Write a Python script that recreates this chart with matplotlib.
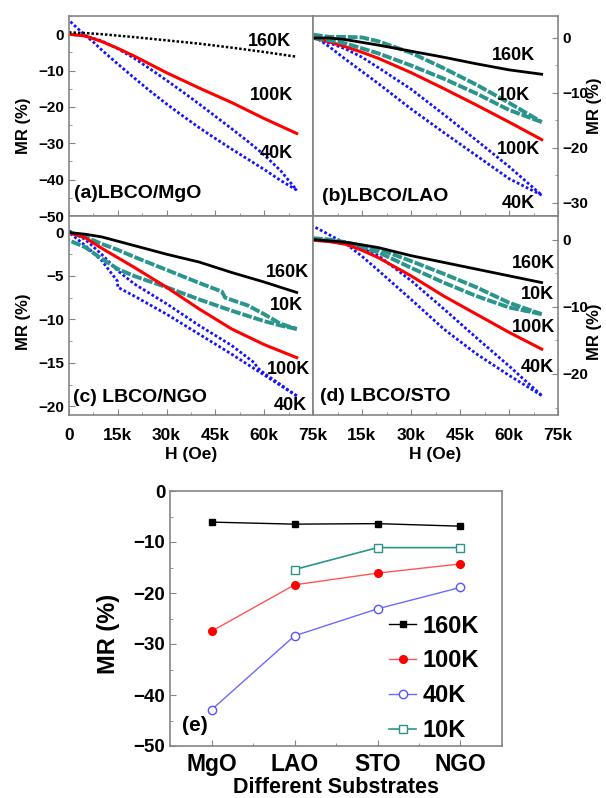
import matplotlib
matplotlib.use('Agg')
import matplotlib.pyplot as plt
import numpy as np
from matplotlib.ticker import MultipleLocator, FuncFormatter

plt.rcParams['font.family'] = ['Liberation Sans', 'DejaVu Sans']
plt.rcParams['font.weight'] = 'bold'

# field values in kOe
H = [0, 5, 10, 15, 20, 30, 40, 50, 60, 70]
H_back = [70, 60, 50, 40, 30, 20, 15, 10, 5, 0]

# (a) LBCO/MgO
a_160 = [0.5, 0.3, 0.0, -0.4, -0.8, -1.7, -2.6, -3.7, -4.9, -6.2]
a_100 = [0, -0.5, -2.0, -3.9, -6.0, -10.6, -14.8, -18.8, -23.2, -27.3]
a_40_H = [0, 5, 10, 15, 20, 25, 30, 35, 40, 45, 50, 55, 60, 65, 70]
a_40 = [0, -0.5, -1.8, -4.0, -6.6, -9.6, -12.7, -15.9, -19.2, -22.6, -26.0, -29.5, -33.2, -37.5, -42.9]
a_40b_H = [70, 65, 60, 55, 50, 45, 40, 35, 30, 25, 20, 15, 10, 7.5, 5, 2.5, 0]
a_40b = [-42.9, -40.2, -37.2, -34.4, -31.6, -28.7, -25.7, -22.5, -19.2, -15.7, -12.0, -8.2, -4.3, -2.2, -0.3, 1.7, 3.8]

# (b) LBCO/LAO
b_160 = [0, 0, -0.3, -0.8, -1.3, -2.4, -3.5, -4.7, -5.8, -6.6]
b_100 = [0, -0.7, -1.6, -2.6, -3.7, -6.3, -9.2, -12.2, -15.3, -18.5]
b_10 = [0.6, 0.2, 0.2, 0.1, -0.6, -2.7, -5.5, -8.5, -11.8, -15.3]
b_10b = [-15.3, -13.1, -10.1, -7.4, -5.0, -2.8, -1.9, -1.0, -0.4, 0]
b_40 = [0, -0.9, -2.0, -3.5, -5.4, -9.3, -13.9, -18.6, -23.4, -28.6]
b_40b = [-28.6, -25.6, -21.4, -17.2, -12.9, -8.3, -6.1, -3.9, -1.6, 0.5]

# (c) LBCO/NGO
c_160 = [0, -0.2, -0.5, -1.0, -1.5, -2.5, -3.4, -4.6, -5.7, -6.9]
c_100 = [0, -0.6, -1.8, -2.9, -4.0, -6.3, -8.8, -11.1, -12.9, -14.4]
c_10_H = [0, 5, 10, 15, 20, 30, 40, 47, 48, 55, 60, 65, 70]
c_10 = [0, -0.5, -1.3, -2.0, -2.8, -4.3, -5.8, -6.8, -7.5, -8.4, -9.4, -10.5, -11.1]
c_10b_H = [70, 65, 60, 50, 40, 30, 20, 15, 10, 5, 0]
c_10b = [-11.1, -10.7, -10.2, -9.0, -7.7, -6.3, -5.0, -4.2, -3.0, -1.7, -0.9]
c_40_H = [0, 5, 10, 15, 20, 30, 40, 50, 57, 58, 60, 70]
c_40 = [0.2, -0.8, -2.5, -4.4, -5.9, -8.2, -10.7, -13.0, -15.0, -15.6, -16.2, -18.8]
c_40b_H = [70, 60, 50, 40, 30, 20, 15, 14.9, 10, 5, 0]
c_40b = [-18.8, -16.4, -14.0, -11.7, -9.4, -7.3, -6.3, -5.6, -3.2, -1.5, 0]

# (d) LBCO/STO
d_160 = [0, -0.2, -0.4, -0.8, -1.2, -2.4, -3.4, -4.4, -5.4, -6.4]
d_100 = [-0.1, -0.3, -0.7, -1.6, -2.7, -5.4, -8.4, -11.1, -13.8, -16.3]
d_10 = [0.2, 0.0, -0.4, -0.9, -1.4, -3.2, -5.1, -7.1, -9.4, -11.1]
d_10b = [-11.1, -10.1, -8.4, -6.4, -4.2, -1.9, -1.2, -0.6, -0.2, 0]
d_40 = [0, -0.1, -0.4, -1.3, -2.4, -6.1, -10.3, -14.6, -18.8, -23.2]
d_40b = [-23.2, -20.2, -17.0, -13.3, -8.9, -4.6, -2.5, -0.6, 0.7, 2.0]

# (e) MR at 70 kOe vs substrate
substrates = ['MgO', 'LAO', 'STO', 'NGO']
e_160 = [-6.1, -6.5, -6.4, -6.9]
e_100 = [-27.5, -18.4, -16.1, -14.3]
e_40 = [-42.9, -28.4, -23.1, -18.9]
e_10 = [np.nan, -15.4, -11.1, -11.1]

BLUE = '#1414ff'
TEAL = '#2a958c'
GREY = '#858585'

fig = plt.figure(figsize=(6.06, 7.98), dpi=100)
W, Hh = 606, 798


def box(x0, y0, x1, y1):
    return [x0 / W, 1 - y1 / Hh, (x1 - x0) / W, (y1 - y0) / Hh]


ax_a = fig.add_axes(box(69, 16, 313, 216))
ax_b = fig.add_axes(box(313, 16, 558, 216))
ax_c = fig.add_axes(box(69, 216, 313, 415))
ax_d = fig.add_axes(box(313, 216, 558, 415))
ax_e = fig.add_axes(box(170, 491, 502, 746))


def style(ax, right=False):
    for s in ax.spines.values():
        s.set_color(GREY)
        s.set_linewidth(1.2)
    ax.tick_params(which='both', direction='in', top=False, color=GREY,
                   labelsize=11)
    ax.tick_params(which='major', length=4)
    ax.tick_params(which='minor', length=2.5)
    if right:
        ax.yaxis.tick_right()
        ax.yaxis.set_label_position('right')
        ax.tick_params(which='both', left=False)
    else:
        ax.tick_params(which='both', right=False)
    ax.set_xlim(0, 75)
    ax.xaxis.set_major_locator(MultipleLocator(15))
    ax.xaxis.set_minor_locator(MultipleLocator(7.5))


def blue(ax, h, v):
    ax.plot(h, v, color=BLUE, lw=2.0, ls=(0, (1, 0.8)))


def teal(ax, h, v):
    ax.plot(h, v, color=TEAL, lw=2.8, ls=(0, (2.5, 0.5)))


def red(ax, h, v):
    ax.plot(h, v, color='#ff0000', lw=2.2)


def black(ax, h, v, dotted=False):
    if dotted:
        ax.plot(h, v, color='k', lw=1.8, ls=(0, (1, 0.8)))
    else:
        ax.plot(h, v, color='k', lw=2.0)


# (a)
style(ax_a)
blue(ax_a, a_40_H, a_40)
blue(ax_a, a_40b_H, a_40b)
red(ax_a, H, a_100)
black(ax_a, H, a_160, dotted=True)
ax_a.set_ylim(-50, 5)
ax_a.yaxis.set_major_locator(MultipleLocator(10))
ax_a.yaxis.set_minor_locator(MultipleLocator(5))

# (b)
style(ax_b, right=True)
blue(ax_b, H, b_40)
blue(ax_b, H_back, b_40b)
red(ax_b, H, b_100)
teal(ax_b, H, b_10)
teal(ax_b, H_back, b_10b)
black(ax_b, H, b_160)
ax_b.set_ylim(-32.4, 4)
ax_b.yaxis.set_major_locator(MultipleLocator(10))
ax_b.yaxis.set_minor_locator(MultipleLocator(5))

# (c)
style(ax_c)
blue(ax_c, c_40_H, c_40)
blue(ax_c, c_40b_H, c_40b)
teal(ax_c, c_10_H, c_10)
teal(ax_c, c_10b_H, c_10b)
red(ax_c, H, c_100)
black(ax_c, H, c_160)
ax_c.set_ylim(-21, 1.9)
ax_c.yaxis.set_major_locator(MultipleLocator(5))
ax_c.yaxis.set_minor_locator(MultipleLocator(2.5))

# (d)
style(ax_d, right=True)
blue(ax_d, H, d_40)
blue(ax_d, H_back, d_40b)
teal(ax_d, H, d_10)
teal(ax_d, H_back, d_10b)
red(ax_d, H, d_100)
black(ax_d, H, d_160)
ax_d.set_ylim(-26.1, 3.5)
ax_d.yaxis.set_major_locator(MultipleLocator(10))
ax_d.yaxis.set_minor_locator(MultipleLocator(5))

for ax in (ax_a, ax_b):
    ax.tick_params(axis='x', labelbottom=False)

ax_c.xaxis.set_major_formatter(
    FuncFormatter(lambda v, p: '0' if v == 0 else f'{v:g}k'))
ax_d.xaxis.set_major_formatter(
    FuncFormatter(lambda v, p: '' if v == 0 else f'{v:g}k'))
for ax in (ax_c, ax_d):
    ax.tick_params(axis='x', labelsize=12.5, pad=9)
    ax.set_xlabel('H (Oe)', fontsize=12.5, fontweight='bold', labelpad=3)

for ax in (ax_a, ax_b, ax_c, ax_d):
    ax.set_ylabel('MR (%)', fontsize=12, fontweight='bold')
ax_a.yaxis.set_label_coords(-0.155, 0.45)
ax_c.yaxis.set_label_coords(-0.155, 0.47)
ax_b.yaxis.set_label_coords(1.12, 0.55)
ax_d.yaxis.set_label_coords(1.12, 0.42)

tk = dict(fontsize=13, fontweight='bold', ha='center', va='center')
ax_a.text(0.82, 0.875, '160K', transform=ax_a.transAxes, **tk)
ax_a.text(0.828, 0.60, '100K', transform=ax_a.transAxes, **tk)
ax_a.text(0.848, 0.31, '40K', transform=ax_a.transAxes, **tk)
ax_b.text(0.82, 0.80, '160K', transform=ax_b.transAxes, **tk)
ax_b.text(0.82, 0.60, '10K', transform=ax_b.transAxes, **tk)
ax_b.text(0.837, 0.335, '100K', transform=ax_b.transAxes, **tk)
ax_b.text(0.837, 0.06, '40K', transform=ax_b.transAxes, **tk)
ax_c.text(0.895, 0.717, '160K', transform=ax_c.transAxes, **tk)
ax_c.text(0.89, 0.55, '10K', transform=ax_c.transAxes, **tk)
ax_c.text(0.90, 0.23, '100K', transform=ax_c.transAxes, **tk)
ax_c.text(0.905, 0.047, '40K', transform=ax_c.transAxes, **tk)
ax_d.text(0.90, 0.76, '160K', transform=ax_d.transAxes, **tk)
ax_d.text(0.917, 0.608, '10K', transform=ax_d.transAxes, **tk)
ax_d.text(0.90, 0.44, '100K', transform=ax_d.transAxes, **tk)
ax_d.text(0.917, 0.24, '40K', transform=ax_d.transAxes, **tk)

pk = dict(fontsize=14, fontweight='bold', ha='left', va='center')
ax_a.text(0.02, 0.11, '(a)LBCO/MgO', transform=ax_a.transAxes, **pk)
ax_b.text(0.035, 0.097, '(b)LBCO/LAO', transform=ax_b.transAxes, **pk)
ax_c.text(0.015, 0.09, '(c) LBCO/NGO', transform=ax_c.transAxes, **pk)
ax_d.text(0.029, 0.092, '(d) LBCO/STO', transform=ax_d.transAxes, **pk)

# (e)
xs = np.arange(len(substrates))
for s in ax_e.spines.values():
    s.set_color(GREY)
    s.set_linewidth(1.2)
ax_e.plot(xs, e_160, color='k', lw=1, marker='s', ms=5, label='160K')
ax_e.plot(xs, e_100, color='#ff5555', lw=1, marker='o', ms=5.5,
          mfc='#ff0000', mec='#ff0000', label='100K')
ax_e.plot(xs, e_40, color='#6a6aff', lw=1, marker='o', ms=6,
          mfc='white', mec='#5555ff', label='40K')
ax_e.plot(xs, e_10, color=TEAL, lw=1.2, marker='s', ms=5.5,
          mfc='white', mec=TEAL, label='10K')
ax_e.set_xlim(-0.5, 3.5)
ax_e.set_ylim(-50, 0)
ax_e.set_xticks(xs)
ax_e.set_xticklabels(substrates)
ax_e.xaxis.set_minor_locator(MultipleLocator(0.5))
ax_e.yaxis.set_major_locator(MultipleLocator(10))
ax_e.yaxis.set_minor_locator(MultipleLocator(5))
ax_e.tick_params(which='both', direction='in', top=False, right=False,
                 color=GREY)
ax_e.tick_params(which='major', length=4)
ax_e.tick_params(which='minor', length=2.5)
ax_e.tick_params(axis='y', labelsize=13.5)
ax_e.tick_params(axis='x', labelsize=16.5, pad=5)
ax_e.set_ylabel('MR (%)', fontsize=17, fontweight='bold')
ax_e.yaxis.set_label_coords(-0.15, 0.44)
ax_e.set_xlabel('Different Substrates', fontsize=15.5, fontweight='bold')
ax_e.xaxis.set_label_coords(0.5, -0.122)
ax_e.text(0.035, 0.082, '(e)', transform=ax_e.transAxes, fontsize=15,
          fontweight='bold', ha='left', va='center')
ax_e.legend(loc='upper left', bbox_to_anchor=(0.66, 0.515), frameon=False,
            fontsize=17, handlelength=1.15, handletextpad=0.25,
            labelspacing=0.5, borderpad=0, borderaxespad=0)

fig.savefig('out.png', dpi=100)
